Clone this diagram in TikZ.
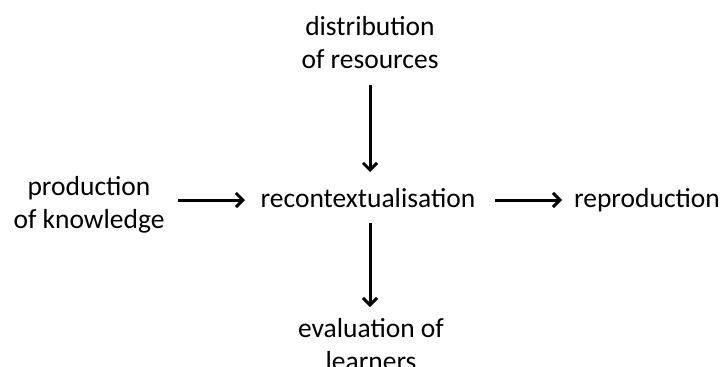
\documentclass[tikz,border=0pt]{standalone}
\usepackage{fontspec}
\setmainfont{Carlito}
\usetikzlibrary{arrows.meta}
\newcommand{\twolines}[2]{\begin{tabular}[t]{@{}c@{}}#1\\#2\end{tabular}}
\begin{document}
\begin{tikzpicture}[x=1pt,y=-1pt,
  lbl/.style={font=\fontsize{27.5}{33}\selectfont, inner sep=0pt, anchor=base},
  arr/.style={line width=3pt, -{Straight Barb[length=7pt,width=14pt,line width=3pt]}}]
\useasboundingbox (0,0) rectangle (724,367);
\clip (0,0) rectangle (724,367);
\node[lbl] (dist) at (370,35) {\twolines{distribution}{of resources}};
\node[lbl] (rec) at (368,207) {recontextualisation};
\node[lbl] (prod) at (89,195) {\twolines{production}{of knowledge}};
\node[lbl] (repr) at (647,207) {reproduction};
\node[lbl] (eval) at (371,337) {\twolines{evaluation of}{learners}};
\coordinate (t1) at (370,85);
\coordinate (t2) at (370,172);
\coordinate (b1) at (370,223);
\coordinate (b2) at (370,307);
\coordinate (l1) at (178,200);
\coordinate (l2) at (245,200);
\coordinate (r1) at (495,200);
\coordinate (r2) at (562,200);
\draw[arr] (t1) -- (t2);
\draw[arr] (b1) -- (b2);
\draw[arr] (l1) -- (l2);
\draw[arr] (r1) -- (r2);
\end{tikzpicture}
\end{document}
